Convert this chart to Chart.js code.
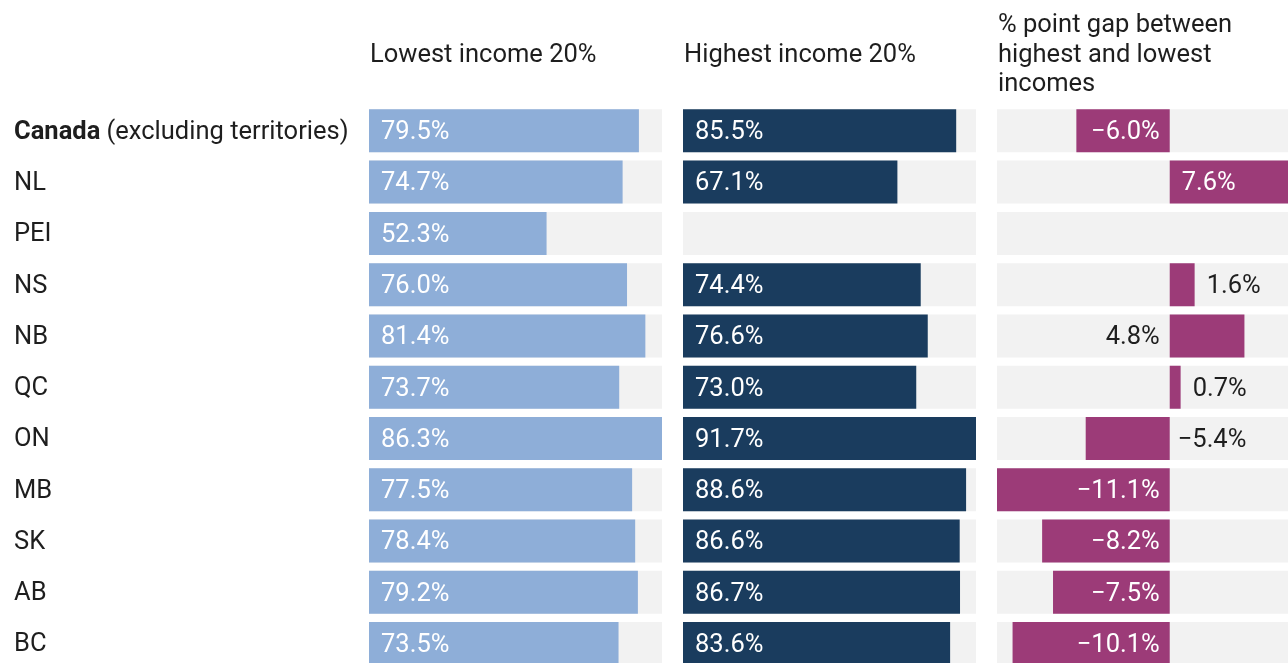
<!DOCTYPE html>
<html>
<head>
<meta charset="utf-8">
<script src="https://cdn.jsdelivr.net/npm/chart.js@4/dist/chart.umd.min.js"></script>
<style>
  html, body { margin: 0; padding: 0; background: #fff; width: 1288px; height: 663px; overflow: hidden; }
  canvas { position: absolute; top: 0; }
</style>
</head>
<body>
<canvas id="cA" width="662" height="690" style="left:0px"></canvas>
<canvas id="cB" width="293" height="690" style="left:683px"></canvas>
<canvas id="cC" width="291" height="690" style="left:997px"></canvas>
<script>
const categories = ['Canada (excluding territories)', 'NL', 'PEI', 'NS', 'NB', 'QC', 'ON', 'MB', 'SK', 'AB', 'BC'];
const lowest  = [79.5, 74.7, 52.3, 76.0, 81.4, 73.7, 86.3, 77.5, 78.4, 79.2, 73.5];
const highest = [85.5, 67.1, null, 74.4, 76.6, 73.0, 91.7, 88.6, 86.6, 86.7, 83.6];
const gap     = [-6.0, 7.6, null, 1.6, 4.8, 0.7, -5.4, -11.1, -8.2, -7.5, -10.1];
const headerLowest = ['Lowest income 20%'];
const headerHighest = ['Highest income 20%'];
const headerGap = ['% point gap between', 'highest and lowest', 'incomes'];

const FONT = 'Roboto, "Noto Sans", sans-serif';
const FS = 25.5;
const TEXT = '#1e1e1e';
const GREY = '#f2f2f2';
const CANVAS_H = 690;
const PAD_TOP = 105.2;
const AREA_H = 564;

Chart.defaults.font.family = FONT;
Chart.defaults.animation = false;
Chart.defaults.devicePixelRatio = 1;

function fmt(v) {
  return (v < 0 ? '\u2212' : '') + Math.abs(v).toFixed(1) + '%';
}

function headerPlugin(lines) {
  return {
    id: 'hdr',
    afterDraw(chart) {
      const ctx = chart.ctx;
      ctx.save();
      ctx.font = `${FS}px ${FONT}`;
      ctx.fillStyle = TEXT;
      ctx.textBaseline = 'middle';
      ctx.textAlign = 'left';
      const lh = 29.5;
      const mid = 55.5;
      const start = mid - (lines.length - 1) / 2 * lh;
      lines.forEach((l, i) => ctx.fillText(l, chart.chartArea.left + 1, start + i * lh));
      ctx.restore();
    }
  };
}

const rowLabelPlugin = {
  id: 'rowLabels',
  afterDraw(chart) {
    const ctx = chart.ctx;
    const y = chart.scales.y;
    ctx.save();
    ctx.fillStyle = TEXT;
    ctx.textBaseline = 'middle';
    ctx.textAlign = 'left';
    categories.forEach((c, i) => {
      const py = y.getPixelForValue(i) + 1.5;
      const k = c.indexOf(' (');
      let x = 14;
      if (k > 0) {
        const b = c.slice(0, k);
        ctx.font = `bold ${FS}px ${FONT}`;
        ctx.fillText(b, x, py);
        x += ctx.measureText(b).width;
        ctx.font = `${FS}px ${FONT}`;
        ctx.fillText(c.slice(k), x, py);
      } else {
        ctx.font = `${FS}px ${FONT}`;
        ctx.fillText(c, x, py);
      }
    });
    ctx.restore();
  }
};

const insideLabelPlugin = {
  id: 'insideLabels',
  afterDatasetsDraw(chart) {
    const ctx = chart.ctx;
    const meta = chart.getDatasetMeta(1);
    const data = chart.data.datasets[1].data;
    ctx.save();
    ctx.font = `${FS}px ${FONT}`;
    ctx.fillStyle = '#ffffff';
    ctx.textBaseline = 'middle';
    ctx.textAlign = 'left';
    meta.data.forEach((el, i) => {
      if (data[i] == null) return;
      ctx.fillText(fmt(data[i]), el.base + 12, el.y + 2);
    });
    ctx.restore();
  }
};

const gapLabelPlugin = {
  id: 'gapLabels',
  afterDatasetsDraw(chart) {
    const ctx = chart.ctx;
    const meta = chart.getDatasetMeta(1);
    const data = chart.data.datasets[1].data;
    const area = chart.chartArea;
    ctx.save();
    ctx.font = `${FS}px ${FONT}`;
    ctx.textBaseline = 'middle';
    meta.data.forEach((el, i) => {
      const v = data[i];
      if (v == null) return;
      const t = fmt(v);
      const tw = ctx.measureText(t).width;
      const zero = el.base;
      const barW = Math.abs(el.x - zero);
      const y = el.y + 2;
      if (barW >= tw + 22) {
        ctx.fillStyle = '#ffffff';
        if (v < 0) { ctx.textAlign = 'right'; ctx.fillText(t, zero - 10, y); }
        else { ctx.textAlign = 'left'; ctx.fillText(t, zero + 12, y); }
      } else {
        ctx.fillStyle = TEXT;
        if (v < 0) {
          ctx.textAlign = 'left'; ctx.fillText(t, zero + 8, y);
        } else if (area.right - el.x >= tw + 20) {
          ctx.textAlign = 'left'; ctx.fillText(t, el.x + 12, y);
        } else {
          ctx.textAlign = 'right'; ctx.fillText(t, zero - 10, y);
        }
      }
    });
    ctx.restore();
  }
};

function makeChart(id, bgData, values, color, xMin, xMax, padLeft, plugins) {
  const canvasH = CANVAS_H;
  return new Chart(document.getElementById(id), {
    type: 'bar',
    data: {
      labels: categories,
      datasets: [
        { data: bgData, backgroundColor: GREY, borderWidth: 0, order: 2, grouped: false },
        { data: values, backgroundColor: color, borderWidth: 0, order: 1, grouped: false }
      ]
    },
    options: {
      indexAxis: 'y',
      responsive: false,
      animation: false,
      layout: { padding: { top: PAD_TOP, bottom: canvasH - PAD_TOP - AREA_H, left: padLeft, right: 0 } },
      datasets: { bar: { barPercentage: 43 / (AREA_H / 11), categoryPercentage: 1 } },
      scales: {
        x: { type: 'linear', min: xMin, max: xMax, display: false, grid: { display: false } },
        y: { type: 'category', display: false, grid: { display: false }, offset: true }
      },
      plugins: { legend: { display: false }, tooltip: { enabled: false } }
    },
    plugins: plugins
  });
}

function draw() {
  const maxLow = Math.max(...lowest);
  const maxHigh = Math.max(...highest.filter(v => v != null));
  const gv = gap.filter(v => v != null);
  const gMin = Math.min(...gv), gMax = Math.max(...gv);

  makeChart('cA', categories.map(() => maxLow), lowest, '#8eaed8', 0, maxLow, 369,
    [headerPlugin(headerLowest), rowLabelPlugin, insideLabelPlugin]);
  makeChart('cB', categories.map(() => maxHigh), highest, '#1a3c5e', 0, maxHigh, 0,
    [headerPlugin(headerHighest), insideLabelPlugin]);
  makeChart('cC', categories.map(() => [gMin, gMax]), gap, '#9c3b78', gMin, gMax, 0,
    [headerPlugin(headerGap), gapLabelPlugin]);
}

if (document.fonts && document.fonts.load) {
  Promise.all([
    document.fonts.load(`${FS}px Roboto`),
    document.fonts.load(`bold ${FS}px Roboto`)
  ]).then(draw, draw);
} else {
  draw();
}
</script>
</body>
</html>
